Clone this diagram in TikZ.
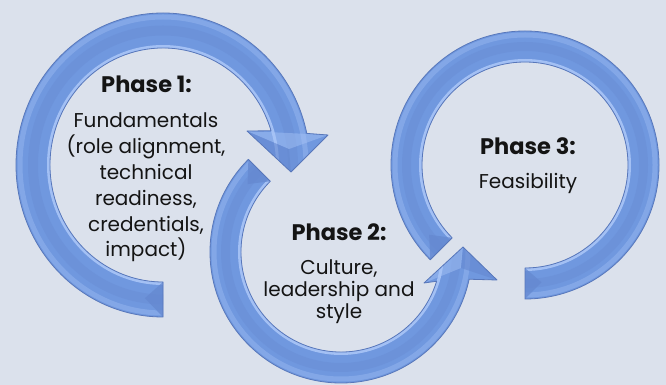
\documentclass[tikz,border=0pt]{standalone}
\usepackage{fontspec}
\setmainfont{Poppins}
\definecolor{bg}{HTML}{DBE1EC}
\definecolor{ringblue}{HTML}{7098DF}
\definecolor{ringdark}{HTML}{5877BA}
\definecolor{ringlight}{HTML}{A9C5F7}
\definecolor{ringmid}{HTML}{6588D0}
\definecolor{txt}{HTML}{141414}
\begin{document}
\begin{tikzpicture}[x=1pt,y=1pt,
  ttl/.style={anchor=base, text=txt, inner sep=0pt, font=\fontsize{22.5}{25}\selectfont\bfseries},
  bodyone/.style={anchor=base, text=txt, inner sep=0pt, align=center, font=\fontsize{20}{25.8}\selectfont},
  bodytwo/.style={anchor=base, text=txt, inner sep=0pt, align=center, font=\fontsize{20}{22.4}\selectfont},
  ringedge/.style={draw=ringdark, line width=0.8pt, line join=round},
  bevel/.style={fill=ringmid, fill opacity=0.75},
  facetlight/.style={fill=ringlight, fill opacity=0.45},
  facetdark/.style={fill=ringmid, fill opacity=0.6}]
\useasboundingbox (0,0) rectangle (666,385);
\fill[bg] (0,0) rectangle (666,385);

% ---------- ring 1 (Phase 1) ----------
\def\ringone{(163,68) arc[start angle=270, end angle=12, x radius=147, y radius=152] -- (328,250) -- (291,213) -- (247,254) -- (271.06,254.21) arc[start angle=17, end angle=270, x radius=113, y radius=117] -- cycle}
\fill[ringblue] \ringone;
\begin{scope}
  \clip \ringone;
  \draw[ringlight, opacity=0.35, line width=5pt] (163,220) ellipse [x radius=143, y radius=148];
  \draw[ringmid, opacity=0.35, line width=10pt] (163,220) ellipse [x radius=130, y radius=134.5];
  \draw[ringlight, opacity=0.9, line width=3pt] (163,220) ellipse [x radius=114.5, y radius=118.5];
  \fill[bevel] (163,68) -- (144.9,86.8) -- (163,103) -- cycle;
  \fill[facetdark] (247,254) -- (289,236) -- (291,213) -- cycle;
  \fill[facetlight] (247,254) -- (289,236) -- (328,250) -- cycle;
\end{scope}
\draw[ringedge] \ringone;

% ---------- ring 2 (Phase 2) ----------
\def\ringtwo{(248.37,225.63) arc[start angle=135, end angle=348, radius=131] -- (497,105) -- (463,138) -- (424,102) -- (436.63,103.76) arc[start angle=343, end angle=135, radius=100] -- cycle}
\fill[ringblue] \ringtwo;
\begin{scope}
  \clip \ringtwo;
  \draw[ringlight, opacity=0.35, line width=5pt] (341,133) circle [radius=127];
  \draw[ringmid, opacity=0.35, line width=9pt] (341,133) circle [radius=115.5];
  \draw[ringlight, opacity=0.9, line width=3pt] (341,133) circle [radius=101.5];
  \fill[bevel] (248.37,225.63) -- (247.6,200.9) -- (270.29,203.71) -- cycle;
  \fill[facetlight] (424,102) -- (461,117) -- (463,138) -- cycle;
  \fill[facetdark] (497,105) -- (461,117) -- (463,138) -- cycle;
\end{scope}
\draw[ringedge] \ringtwo;

% ---------- ring 3 (Phase 3) ----------
\def\ringthree{(430.25,125.25) arc[start angle=225, end angle=-90, radius=134] -- (525,117) arc[start angle=-90, end angle=225, radius=103] -- cycle}
\fill[ringblue] \ringthree;
\begin{scope}
  \clip \ringthree;
  \draw[ringlight, opacity=0.35, line width=5pt] (525,220) circle [radius=130];
  \draw[ringmid, opacity=0.35, line width=9pt] (525,220) circle [radius=118.5];
  \draw[ringlight, opacity=0.9, line width=3pt] (525,220) circle [radius=104.5];
  \fill[bevel] (430.25,125.25) -- (429.1,150.3) -- (452.17,147.17) -- cycle;
  \fill[bevel] (525,86) -- (541.5,102.7) -- (525,117) -- cycle;
\end{scope}
\draw[ringedge] \ringthree;

% ---------- texts (multi-line nodes anchored at the last baseline) ----------
\node[ttl] (t1) at (146.5,292) {Phase 1:};
\node[bodyone] (b1) at (146,128) {Fundamentals\\(role alignment,\\technical\\readiness,\\credentials,\\impact)};
\node[ttl] (t2) at (339,144) {Phase 2:};
\node[bodytwo] (b2) at (339,66) {Culture,\\leadership and\\style};
\node[ttl] (t3) at (528,230) {Phase 3:};
\node[bodyone] (b3) at (528,196) {Feasibility};
\end{tikzpicture}
\end{document}
